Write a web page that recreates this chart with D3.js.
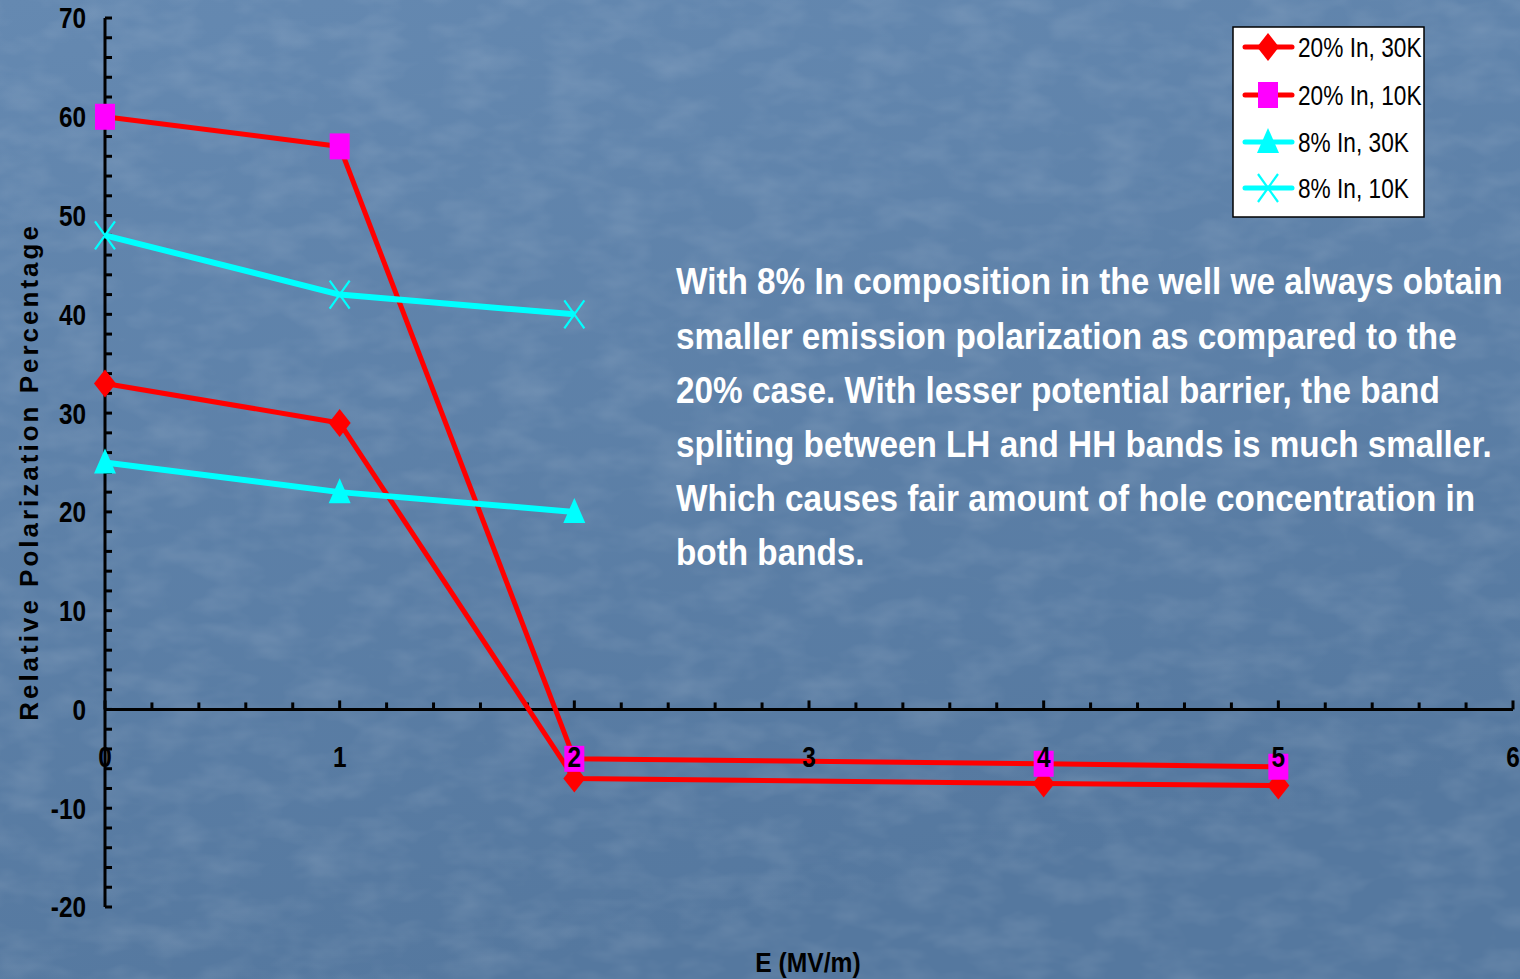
<!DOCTYPE html>
<html lang="en">
<head>
<meta charset="utf-8">
<script src="https://d3js.org/d3.v7.min.js"></script>
<style>
  body { margin: 0; background: #5b7fa7; overflow: hidden; }
  svg { display: block; }
  text { font-family: "Liberation Sans", Arial, sans-serif; }
</style>
</head>
<body>
<div id="chart"></div>
<script>

var width = 1520, height = 979;

// data
var xValues = [0, 1, 2, 4, 5];
var names = ["20% In, 30K", "20% In, 10K", "8% In, 30K", "8% In, 10K"];
var in20k30 = [33, 29, -7, -7.5, -7.7];
var in20k10 = [60, 57, -5, -5.5, -5.8];
var in8k30 = [25, 22, 20];
var in8k10 = [48, 42, 40];
var xTicks = [0, 1, 2, 3, 4, 5, 6];
var yTicks = [-20, -10, 0, 10, 20, 30, 40, 50, 60, 70];
var note = [
  "With 8% In composition in the well we always obtain",
  "smaller emission polarization as compared to the",
  "20% case. With lesser potential barrier, the band",
  "spliting between LH and HH bands is much smaller.",
  "Which causes fair amount of hole concentration in",
  "both bands."
];

var series = [
  { name: names[0], values: in20k30, line: "#ff0000", marker: "diamond", fill: "#ff0000" },
  { name: names[1], values: in20k10, line: "#ff0000", marker: "square", fill: "#ff00ff" },
  { name: names[2], values: in8k30, line: "#00ffff", marker: "triangle", fill: "#00ffff" },
  { name: names[3], values: in8k10, line: "#00ffff", marker: "cross", fill: "#00ffff" }
];

var x = d3.scaleLinear().domain([0, 6]).range([105, 1513]);
var y = d3.scaleLinear().domain([-20, 70]).range([907, 18]);

var svg = d3.select("#chart").append("svg")
  .attr("width", width)
  .attr("height", height);

// the original uses a condensed face, so squeeze the text sideways
function squeeze(px, py, sx) {
  return "translate(" + px + "," + py + ") scale(" + sx + ",1)";
}

//////////////////// background ////////////////////
var defs = svg.append("defs");
var grad = defs.append("linearGradient").attr("id", "bg")
  .attr("x1", 0).attr("y1", 0).attr("x2", 0.3).attr("y2", 1);
grad.append("stop").attr("offset", 0).attr("stop-color", "#6589b1");
grad.append("stop").attr("offset", 1).attr("stop-color", "#55789f");

var filt = defs.append("filter").attr("id", "grain");
filt.append("feTurbulence").attr("type", "fractalNoise")
  .attr("baseFrequency", "0.02 0.04").attr("numOctaves", 3).attr("seed", 4);
filt.append("feColorMatrix").attr("type", "matrix")
  .attr("values", "0 0 0 0 1  0 0 0 0 1  0 0 0 0 1  0 0 0 0.9 -0.35");

svg.append("rect").attr("width", width).attr("height", height).attr("fill", "url(#bg)");
svg.append("rect").attr("width", width).attr("height", height)
  .attr("filter", "url(#grain)").attr("opacity", 0.22);

//////////////////// axes ////////////////////
var axisG = svg.append("g");

// y axis: minor ticks every 2, pointing right
axisG.append("line")
  .attr("x1", x(0)).attr("x2", x(0))
  .attr("y1", y(70)).attr("y2", y(-20))
  .attr("stroke", "#000").attr("stroke-width", 3);
axisG.selectAll(".ytick").data(d3.range(-20, 71, 2)).enter().append("line")
  .attr("x1", x(0)).attr("x2", x(0) + 7)
  .attr("y1", function(d) { return y(d); })
  .attr("y2", function(d) { return y(d); })
  .attr("stroke", "#000").attr("stroke-width", 3);

// x axis at zero: minor ticks every 0.2, pointing up
axisG.append("line")
  .attr("x1", x(0)).attr("x2", x(6))
  .attr("y1", y(0)).attr("y2", y(0))
  .attr("stroke", "#000").attr("stroke-width", 3);
axisG.selectAll(".xtick").data(d3.range(0, 31)).enter().append("line")
  .attr("x1", function(d) { return x(d / 5); })
  .attr("x2", function(d) { return x(d / 5); })
  .attr("y1", y(0)).attr("y2", function(d) { return y(0) - (d % 5 === 0 ? 9 : 7); })
  .attr("stroke", "#000").attr("stroke-width", 3);

axisG.selectAll(".ylab").data(yTicks).enter().append("text")
  .attr("transform", function(d) { return squeeze(86, y(d), 0.84); })
  .attr("dy", "0.36em")
  .attr("text-anchor", "end")
  .attr("font-size", 29).attr("font-weight", "bold")
  .text(function(d) { return d; });

svg.append("text")
  .attr("transform", "translate(38,472) rotate(-90)")
  .attr("text-anchor", "middle")
  .attr("font-size", 26).attr("font-weight", "bold")
  .attr("letter-spacing", 3)
  .text("Relative Polarization Percentage");

svg.append("text")
  .attr("transform", squeeze(808, 972, 0.88))
  .attr("text-anchor", "middle")
  .attr("font-size", 28).attr("font-weight", "bold")
  .text("E (MV/m)");

//////////////////// markers ////////////////////
function drawMarker(g, type, fill) {
  if (type === "diamond") {
    g.append("path").attr("d", "M0,-14L11,0L0,14L-11,0Z").attr("fill", fill);
  } else if (type === "square") {
    g.append("rect").attr("x", -10).attr("y", -13).attr("width", 20).attr("height", 26).attr("fill", fill);
  } else if (type === "triangle") {
    g.append("path").attr("d", "M0,-14L11,11L-11,11Z").attr("fill", fill);
  } else {
    g.append("path").attr("d", "M-10,-14L10,14M10,-14L-10,14")
      .attr("stroke", fill).attr("stroke-width", 2.2).attr("fill", "none");
  }
}

//////////////////// series ////////////////////
var line = d3.line()
  .x(function(d, i) { return x(xValues[i]); })
  .y(function(d) { return y(d); });

series.forEach(function(s) {
  svg.append("path")
    .attr("d", line(s.values))
    .attr("fill", "none")
    .attr("stroke", s.line)
    .attr("stroke-width", s.line === "#ff0000" ? 5 : 6)
    .attr("stroke-linejoin", "round");
});

series.forEach(function(s) {
  s.values.forEach(function(v, i) {
    var g = svg.append("g").attr("transform", "translate(" + x(xValues[i]) + "," + y(v) + ")");
    drawMarker(g, s.marker, s.fill);
  });
});

// x tick labels sit above the data
svg.selectAll(".xlab").data(xTicks).enter().append("text")
  .attr("transform", function(d) { return squeeze(x(d), y(0) + 47, 0.84); })
  .attr("dy", "0.36em")
  .attr("text-anchor", "middle")
  .attr("font-size", 29).attr("font-weight", "bold")
  .text(function(d) { return d; });

//////////////////// legend ////////////////////
var legend = svg.append("g").attr("transform", "translate(1233,27)");
legend.append("rect").attr("width", 191).attr("height", 190)
  .attr("fill", "#fff").attr("stroke", "#000").attr("stroke-width", 1.5);

var entry = legend.selectAll(".entry").data(series).enter().append("g")
  .attr("transform", function(d, i) { return "translate(0," + [20, 68, 115, 161][i] + ")"; });
entry.append("line")
  .attr("x1", 12).attr("x2", 59)
  .attr("stroke", function(d) { return d.line; })
  .attr("stroke-width", 5).attr("stroke-linecap", "round");
entry.each(function(d) {
  drawMarker(d3.select(this).append("g").attr("transform", "translate(35,0)"), d.marker, d.fill);
});
entry.append("text")
  .attr("transform", squeeze(65, 0, 0.84))
  .attr("dy", "0.36em")
  .attr("font-size", 27)
  .text(function(d) { return d.name; });

//////////////////// annotation ////////////////////
svg.append("g").selectAll("text").data(note).enter().append("text")
  .attr("transform", function(d, i) { return squeeze(676, 281 + i * 54.2, 0.9); })
  .attr("dy", "0.36em")
  .attr("fill", "#fff")
  .attr("font-size", 37).attr("font-weight", "bold")
  .text(function(d) { return d; });

</script>
</body>
</html>
